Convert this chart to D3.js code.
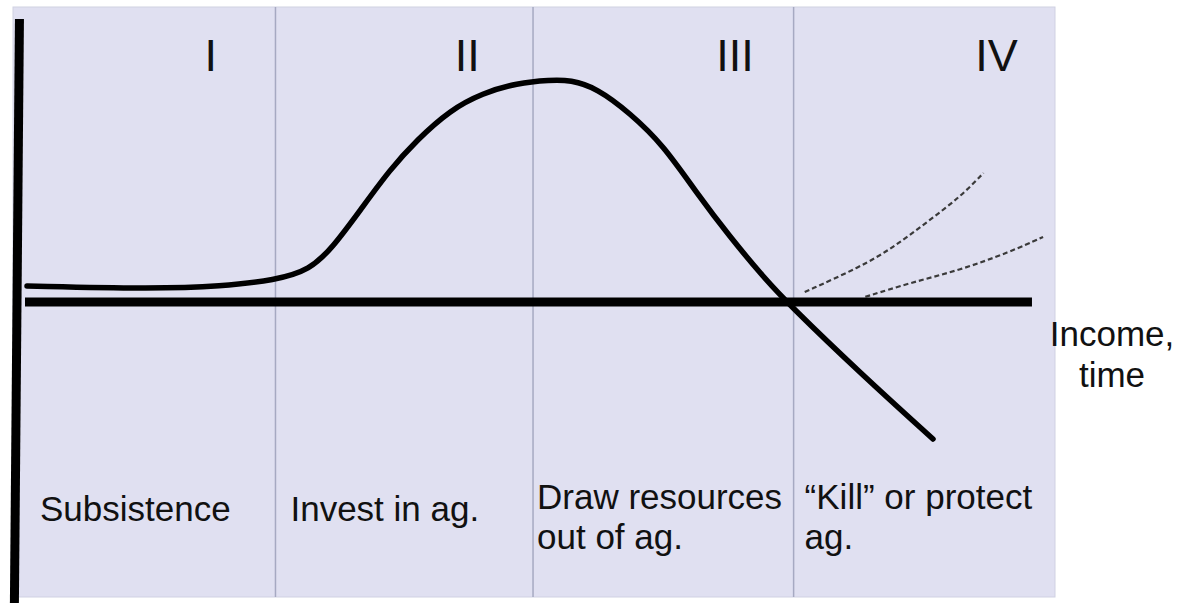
<!DOCTYPE html>
<html>
<head>
<meta charset="utf-8">
<script src="https://cdn.jsdelivr.net/npm/d3@7"></script>
<style>
  html, body { margin: 0; padding: 0; background: #ffffff; }
  svg { display: block; }
  text { font-family: "Liberation Sans", Arial, sans-serif; fill: #111; }
</style>
</head>
<body>
<svg id="chart" width="1180" height="603"></svg>
<script>
// ---------- data ----------
// x: income/time (0-100), y: agriculture's relative role (0 = axis, 100 = peak)
const stageNames = ["I", "II", "III", "IV"];
const stageBoundaries = [24.8, 50.3, 76.1];
const stageLabels = [
  ["Subsistence"],
  ["Invest in ag."],
  ["Draw resources", "out of ag."],
  ["\u201CKill\u201D or protect", "ag."]
];
const mainX = [0.2, 12.4, 19.5, 24.8, 28.2, 30.5, 33.2, 36.1, 38.8, 42.1, 45.3, 48.7, 52.0, 54.0, 56.6, 59.9, 63.2, 66.5, 69.8, 73.1, 75.7, 82.7, 89.9];
const mainY = [7.2, 5.9, 7.0, 9.9, 14.4, 24.8, 41.4, 59.5, 73.0, 86.5, 94.1, 98.6, 100, 100, 96.4, 85.1, 70.7, 49.1, 29.3, 11.3, -1.4, -32.0, -61.7];
const protectHighX = [77.2, 82.7, 85.9, 89.3, 92.6, 94.9];
const protectHighY = [4.5, 15.8, 24.3, 36.0, 47.3, 58.1];
const protectLowX = [83.2, 87.6, 92.6, 97.5, 100.8];
const protectLowY = [2.3, 8.6, 14.4, 22.5, 29.3];
const xAxisLabel = ["Income,", "time"];

// ---------- layout ----------
const svg = d3.select("#chart");
const x = d3.scaleLinear().domain([0, 100]).range([25, 1035]);
const y = d3.scaleLinear().domain([0, 100]).range([302, 80]);

const panel = { left: 13, top: 7, right: 1055, bottom: 597 };
const numeralCenters = [18.4, 43.8, 70.3, 96.2];   // x positions (data units) of the stage numerals
const labelOffsets = [15, 15, 4, 11];               // px from stage start

svg.append("rect")
  .attr("x", panel.left).attr("y", panel.top)
  .attr("width", panel.right - panel.left)
  .attr("height", panel.bottom - panel.top)
  .attr("fill", "#e0e0f1")
  .attr("stroke", "#d0d1e2").attr("stroke-width", 1);

// stage dividers
svg.selectAll("line.div").data(stageBoundaries).enter().append("line")
  .attr("class", "div")
  .attr("x1", d => x(d)).attr("x2", d => x(d))
  .attr("y1", panel.top).attr("y2", panel.bottom)
  .attr("stroke", "#a6a9c2").attr("stroke-width", 1.5);

// stage numerals
svg.selectAll("text.num").data(stageNames).enter().append("text")
  .attr("class", "num")
  .attr("x", (d, i) => x(numeralCenters[i]))
  .attr("y", 71)
  .attr("text-anchor", "middle")
  .style("font-size", "45px")
  .text(d => d);

// stage labels
const labelX = [0, ...stageBoundaries];
svg.selectAll("g.lab").data(stageLabels).enter().append("g").attr("class", "lab")
  .each(function(lines, i) {
    const g = d3.select(this);
    const single = lines.length === 1;
    lines.forEach((t, j) => {
      g.append("text")
        .attr("x", x(labelX[i]) + labelOffsets[i])
        .attr("y", single ? 521 : 509 + j * 40)
        .style("font-size", "35px")
        .text(t);
    });
  });

// horizontal axis
svg.append("line")
  .attr("x1", x(0)).attr("x2", x(99.7))
  .attr("y1", y(0)).attr("y2", y(0))
  .attr("stroke", "#000").attr("stroke-width", 9);

// vertical axis (slightly slanted as in the original drawing)
svg.append("line")
  .attr("x1", x(-0.55)).attr("y1", y(127.5))
  .attr("x2", x(-1.05)).attr("y2", y(-136))
  .attr("stroke", "#000").attr("stroke-width", 9);

// main curve
const line = d3.line().x(d => x(d[0])).y(d => y(d[1])).curve(d3.curveBasis);
svg.append("path")
  .datum(d3.zip(mainX, mainY))
  .attr("d", line)
  .attr("fill", "none").attr("stroke", "#000").attr("stroke-width", 5.5)
  .attr("stroke-linecap", "round").attr("stroke-linejoin", "round");

// dashed protection scenarios
[[protectHighX, protectHighY], [protectLowX, protectLowY]].forEach(([xs, ys]) => {
  svg.append("path")
    .datum(d3.zip(xs, ys))
    .attr("d", line)
    .attr("fill", "none").attr("stroke", "#3a3a3a").attr("stroke-width", 2.2)
    .attr("stroke-dasharray", "5,3");
});

// x axis label
svg.selectAll("text.xl").data(xAxisLabel).enter().append("text")
  .attr("class", "xl")
  .attr("x", 1112)
  .attr("y", (d, i) => 346 + i * 41)
  .attr("text-anchor", "middle")
  .style("font-size", "35px")
  .text(d => d);
</script>
</body>
</html>
